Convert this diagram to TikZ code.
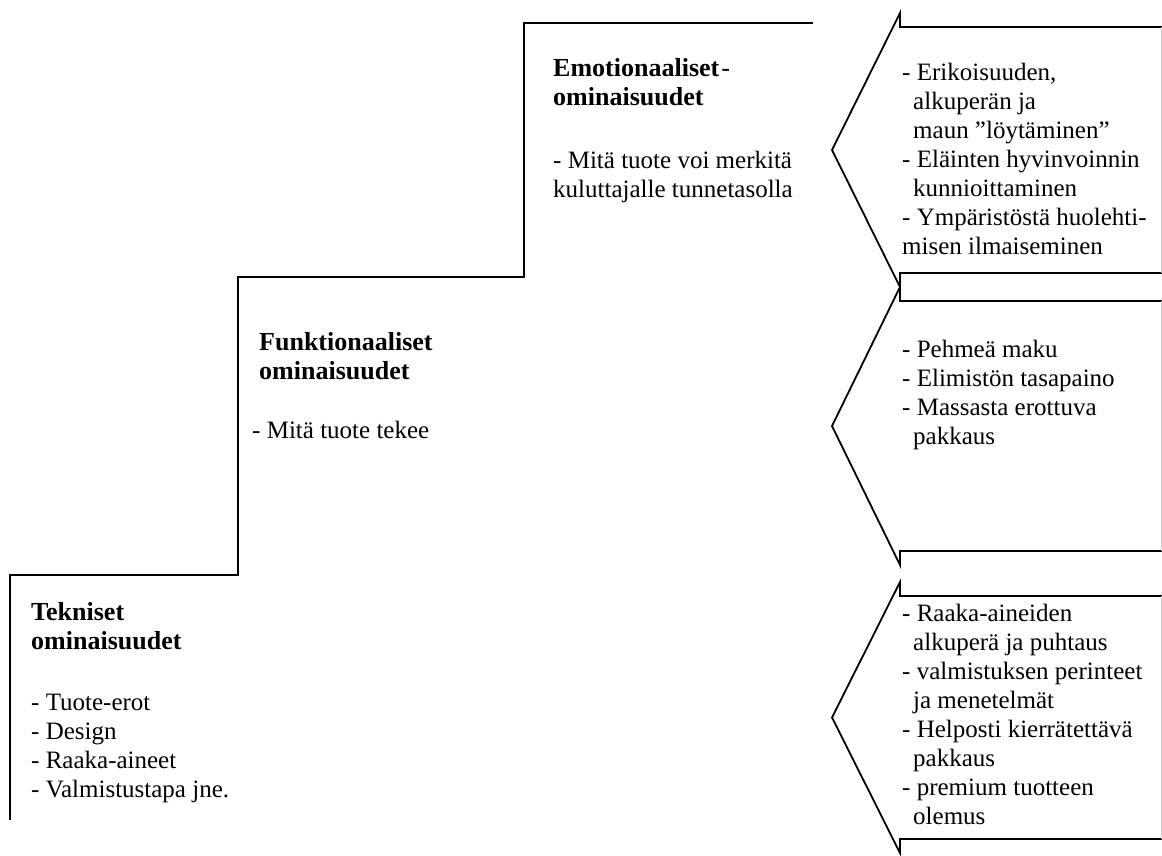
\documentclass[tikz,border=0pt]{standalone}
\usepackage{fontspec}
\setmainfont{Liberation Serif}
\newcommand{\indnt}{\hspace*{11pt}}

\begin{document}
\begin{tikzpicture}[x=1pt,y=-1pt,
    line/.style={line width=1.8pt},
    txt/.style={anchor=base west,inner sep=0pt,align=left,font=\fontsize{25}{29}\selectfont},
    head/.style={txt,font=\fontsize{26}{29}\selectfont\bfseries}]
  \useasboundingbox (0,0) rectangle (1162,855);
  \draw[line] (10,820) -- (10,575) -- (238,575) -- (238,277) -- (524,277) -- (524,23) -- (813,23);
  \foreach \tp/\bt in {13/287,287/565,582/853}{
    \pgfmathsetmacro{\md}{(\tp+\bt)/2}
    \draw[line] (1162,\tp+14) -- (900,\tp+14) -- (900,\tp) -- (832,\md) -- (900,\bt) -- (900,\bt-14) -- (1162,\bt-14);
    \draw[gray!40,line width=0.8pt] (1161,\tp+14) -- (1161,\bt-14);
  }
  \node[head] (emohead) at (553,105) {Emotionaaliset\kern2pt{\mdseries -}\\ominaisuudet};
  \node[txt] (emobody) at (553,197) {- Mitä tuote voi merkitä\\kuluttajalle tunnetasolla};
  \node[head] (funkhead) at (259,379) {Funktionaaliset\\ominaisuudet};
  \node[txt] (funkbody) at (252,438) {- Mitä tuote tekee};
  \node[head] (tekhead) at (31,649) {Tekniset\\ominaisuudet};
  \node[txt] (tekbody) at (31,797) {- Tuote-erot\\- Design\\- Raaka-aineet\\- Valmistustapa jne.};
  \node[txt] (emolist) at (902,254) {- Erikoisuuden,\\\indnt alkuperän ja\\\indnt maun ”löytäminen”\\- Eläinten hyvinvoinnin\\\indnt kunnioittaminen\\- Ympäristöstä huolehti-\\misen ilmaiseminen};
  \node[txt] (funklist) at (902,444) {- Pehmeä maku\\- Elimistön tasapaino\\- Massasta erottuva\\\indnt pakkaus};
  \node[txt] (teklist) at (902,824) {- Raaka-aineiden\\\indnt alkuperä ja puhtaus\\- valmistuksen perinteet\\\indnt ja menetelmät\\- Helposti kierrätettävä\\\indnt pakkaus\\- premium tuotteen\\\indnt olemus};
\end{tikzpicture}
\end{document}
